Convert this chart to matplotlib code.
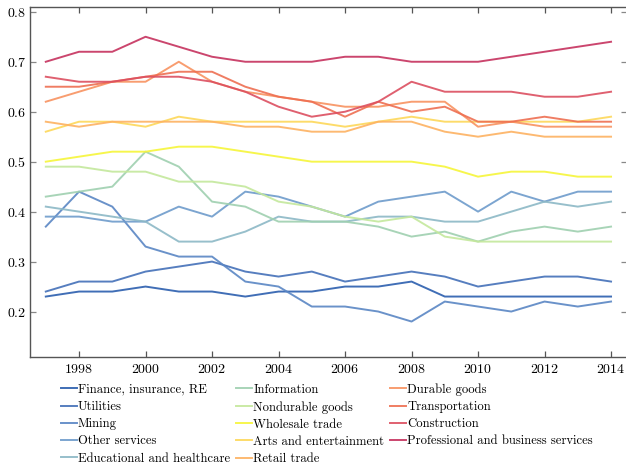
import numpy as np
from matplotlib import pyplot as plt

plt.rcParams['font.family'] = ['cmr10', 'DejaVu Serif']
plt.rcParams['mathtext.fontset'] = 'cm'
plt.rcParams['axes.formatter.use_mathtext'] = True

years = np.arange(1997, 2015)

# valors llegits de la figura
finance = [0.23, 0.24, 0.24, 0.25, 0.24, 0.24, 0.23, 0.24, 0.24, 0.25, 0.25, 0.26, 0.23, 0.23, 0.23, 0.23, 0.23, 0.23]
utilities = [0.24, 0.26, 0.26, 0.28, 0.29, 0.30, 0.28, 0.27, 0.28, 0.26, 0.27, 0.28, 0.27, 0.25, 0.26, 0.27, 0.27, 0.26]
mining = [0.37, 0.44, 0.41, 0.33, 0.31, 0.31, 0.26, 0.25, 0.21, 0.21, 0.20, 0.18, 0.22, 0.21, 0.20, 0.22, 0.21, 0.22]
other_services = [0.39, 0.39, 0.38, 0.38, 0.41, 0.39, 0.44, 0.43, 0.41, 0.39, 0.42, 0.43, 0.44, 0.40, 0.44, 0.42, 0.44, 0.44]
educational = [0.41, 0.40, 0.39, 0.38, 0.34, 0.34, 0.36, 0.39, 0.38, 0.38, 0.39, 0.39, 0.38, 0.38, 0.40, 0.42, 0.41, 0.42]
information = [0.43, 0.44, 0.45, 0.52, 0.49, 0.42, 0.41, 0.38, 0.38, 0.38, 0.37, 0.35, 0.36, 0.34, 0.36, 0.37, 0.36, 0.37]
nondurable = [0.49, 0.49, 0.48, 0.48, 0.46, 0.46, 0.45, 0.42, 0.41, 0.39, 0.38, 0.39, 0.35, 0.34, 0.34, 0.34, 0.34, 0.34]
wholesale = [0.50, 0.51, 0.52, 0.52, 0.53, 0.53, 0.52, 0.51, 0.50, 0.50, 0.50, 0.50, 0.49, 0.47, 0.48, 0.48, 0.47, 0.47]
arts = [0.56, 0.58, 0.58, 0.57, 0.59, 0.58, 0.58, 0.58, 0.58, 0.57, 0.58, 0.59, 0.58, 0.58, 0.58, 0.58, 0.58, 0.59]
retail = [0.58, 0.57, 0.58, 0.58, 0.58, 0.58, 0.57, 0.57, 0.56, 0.56, 0.58, 0.58, 0.56, 0.55, 0.56, 0.55, 0.55, 0.55]
durable = [0.62, 0.64, 0.66, 0.66, 0.70, 0.66, 0.64, 0.63, 0.62, 0.61, 0.61, 0.62, 0.62, 0.57, 0.58, 0.57, 0.57, 0.57]
transportation = [0.65, 0.65, 0.66, 0.67, 0.68, 0.68, 0.65, 0.63, 0.62, 0.59, 0.62, 0.60, 0.61, 0.58, 0.58, 0.59, 0.58, 0.58]
construction = [0.67, 0.66, 0.66, 0.67, 0.67, 0.66, 0.64, 0.61, 0.59, 0.60, 0.62, 0.66, 0.64, 0.64, 0.64, 0.63, 0.63, 0.64]
professional = [0.70, 0.72, 0.72, 0.75, 0.73, 0.71, 0.70, 0.70, 0.70, 0.71, 0.71, 0.70, 0.70, 0.70, 0.71, 0.72, 0.73, 0.74]

labels = ['Finance, insurance, RE', 'Utilities', 'Mining', 'Other services',
          'Educational and healthcare', 'Information', 'Nondurable goods',
          'Wholesale trade', 'Arts and entertainment', 'Retail trade',
          'Durable goods', 'Transportation', 'Construction',
          'Professional and business services']
series = [finance, utilities, mining, other_services, educational, information,
          nondurable, wholesale, arts, retail, durable, transportation,
          construction, professional]
colors = ['#2b5eae', '#4470b8', '#5a86c4', '#6e9bcb', '#8cb8c6', '#9fd0b0',
          '#c4e89c', '#f6f53a', '#fdd85a', '#fdb262', '#f89260', '#ee6f52',
          '#dc4f60', '#c6325e']

fig = plt.figure(figsize=(6.26, 4.66), dpi=100)
ax = fig.add_axes([29.5 / 626, 1 - 357 / 466, (627 - 29.5) / 626, (357 - 7.3) / 466])

for s, c, l in zip(series, colors, labels):
    ax.plot(years, s, color=c, lw=1.4, alpha=0.9, label=l)

ax.set_xlim(1996.51, 2014.48)
ax.set_ylim(0.109, 0.809)
ax.set_xticks(range(1998, 2015, 2))
ax.set_yticks([0.2, 0.3, 0.4, 0.5, 0.6, 0.7, 0.8])
ax.tick_params(direction='in', length=4, width=0.9, top=True, right=True,
               labelsize=10, color='#555555')
ax.tick_params(axis='y', pad=2.5, color='#888888')
ax.tick_params(axis='x', pad=4)
for sp in ax.spines.values():
    sp.set_color('#555555')
    sp.set_linewidth(1.0)

# llegenda sota l'eix, 3 columnes
ax.legend(loc='upper left', bbox_to_anchor=(0.0519, -0.075),
          ncol=3, frameon=False, fontsize=9.1, handlelength=1.28,
          handletextpad=0.1, columnspacing=0.45, labelspacing=0.4,
          borderaxespad=0, borderpad=0)

fig.savefig('out.png', dpi=100)
